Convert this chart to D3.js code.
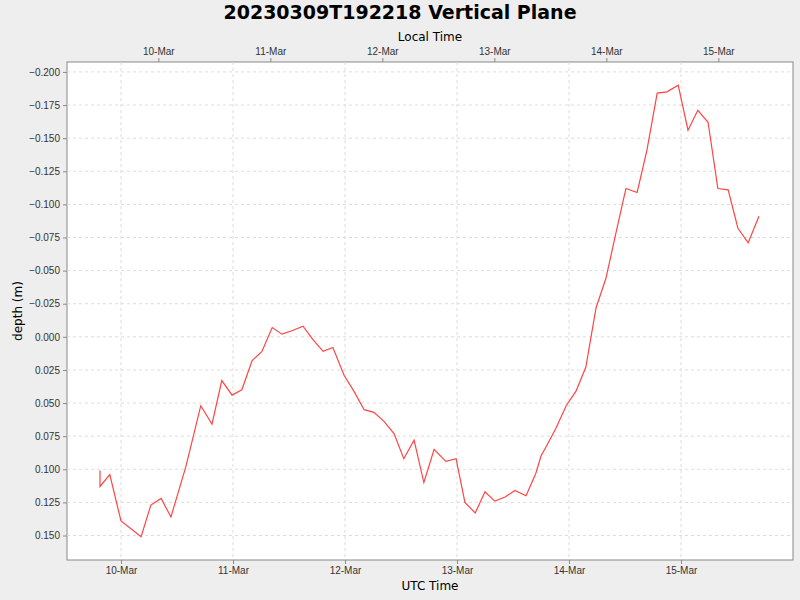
<!DOCTYPE html>
<html>
<head>
<meta charset="utf-8">
<script src="https://cdn.jsdelivr.net/npm/d3@7"></script>
<style>
body { margin: 0; background: #eeeeee; }
svg { font-family: "DejaVu Sans", sans-serif; }
</style>
</head>
<body>
<svg id="chart" width="800" height="600"></svg>
<script>
// hours since 2023-03-10T00:00Z
const hours = [-4.5, -4.5, -2.4, 0, 4.3, 6.4, 8.6, 10.7, 13.9, 17.1, 19.5, 21.6, 23.8, 25.9, 28.1, 30.2,
  32.4, 34.5, 36.9, 39.0, 41.1, 43.3, 45.4, 47.8, 49.9, 52.1, 54.2, 56.4, 58.5, 60.6, 62.8, 64.9,
  67.1, 69.6, 71.8, 73.7, 75.9, 78.0, 80.1, 82.3, 84.4, 86.8, 88.9, 90.0, 91.1, 93.2, 95.4, 97.5,
  99.6, 101.8, 103.9, 106.1, 108.2, 110.6, 112.7, 114.9, 117.0, 119.4, 121.5, 123.6, 125.8, 127.9,
  130.1, 132.2, 134.4, 136.7];
const depths = [0.101, 0.113, 0.104, 0.139, 0.151, 0.127, 0.122, 0.136, 0.098, 0.052, 0.066, 0.033,
  0.044, 0.040, 0.018, 0.011, -0.007, -0.002, -0.005, -0.008, 0.002, 0.011, 0.008, 0.029, 0.041,
  0.055, 0.057, 0.064, 0.073, 0.092, 0.078, 0.110, 0.085, 0.094, 0.092, 0.125, 0.133, 0.117, 0.124,
  0.121, 0.116, 0.120, 0.103, 0.090, 0.083, 0.069, 0.052, 0.041, 0.023, -0.022, -0.044, -0.079,
  -0.112, -0.109, -0.141, -0.184, -0.185, -0.190, -0.156, -0.171, -0.162, -0.112, -0.111, -0.082,
  -0.071, -0.091];
const yTicks = [-0.2, -0.175, -0.15, -0.125, -0.1, -0.075, -0.05, -0.025, 0, 0.025, 0.05, 0.075, 0.1, 0.125, 0.15];

const t0 = Date.UTC(2023, 2, 10);
const data = hours.map((h, i) => ({ t: new Date(t0 + h * 3600e3), v: depths[i] }));

const svg = d3.select("#chart"),
  m = { top: 62, right: 7, bottom: 40, left: 67 },
  w = 800 - m.left - m.right,
  h = 600 - m.top - m.bottom;

svg.append("text").attr("x", 400).attr("y", 19).attr("text-anchor", "middle")
  .attr("font-size", 19).attr("font-weight", "bold").text("20230309T192218 Vertical Plane");

const x = d3.scaleUtc().domain([new Date(t0 - 11.57 * 3600e3), new Date(t0 + 144 * 3600e3)]).range([0, w]);
const y = d3.scaleLinear().domain([-0.2075, 0.1685]).range([0, h]);

const g = svg.append("g").attr("transform", `translate(${m.left},${m.top})`);
g.append("rect").attr("width", w).attr("height", h).attr("fill", "#fff").attr("stroke", "#888");

const days = d3.utcDay.range(new Date(t0), new Date(t0 + 144 * 3600e3));
g.selectAll(".gx").data(days).enter().append("line")
  .attr("x1", d => x(d)).attr("x2", d => x(d)).attr("y1", 0).attr("y2", h)
  .attr("stroke", "#ddd").attr("stroke-dasharray", "3,3");
g.selectAll(".gy").data(yTicks).enter().append("line")
  .attr("x1", 0).attr("x2", w).attr("y1", d => y(d)).attr("y2", d => y(d))
  .attr("stroke", "#ddd").attr("stroke-dasharray", "3,3");

const fmt = d3.utcFormat("%-d-%b");
const xb = g.append("g").attr("transform", `translate(0,${h})`)
  .call(d3.axisBottom(x).tickValues(days).tickFormat(fmt).tickSize(4));
const localDays = days.map(d => new Date(+d + 8 * 3600e3));
const xt = g.append("g")
  .call(d3.axisTop(x).tickValues(localDays).tickFormat(d => fmt(new Date(+d - 8 * 3600e3))).tickSize(4));
const ya = g.append("g").call(d3.axisLeft(y).tickValues(yTicks).tickFormat(d3.format(".3f")).tickSize(4));
[xb, xt, ya].forEach(a => {
  a.select(".domain").remove();
  a.selectAll("text").attr("font-size", 10).attr("fill", "#333");
  a.selectAll("line").attr("stroke", "#888");
});

svg.append("text").attr("x", m.left + w / 2).attr("y", 590).attr("text-anchor", "middle")
  .attr("font-size", 12).text("UTC Time");
svg.append("text").attr("x", m.left + w / 2).attr("y", 41).attr("text-anchor", "middle")
  .attr("font-size", 12).text("Local Time");
svg.append("text").attr("transform", `translate(22,${m.top + h / 2}) rotate(-90)`)
  .attr("text-anchor", "middle").attr("font-size", 12).text("depth (m)");

g.append("path").datum(data)
  .attr("fill", "none").attr("stroke", "#ff4444").attr("stroke-width", 1.2)
  .attr("d", d3.line().x(d => x(d.t)).y(d => y(d.v)));
</script>
</body>
</html>
